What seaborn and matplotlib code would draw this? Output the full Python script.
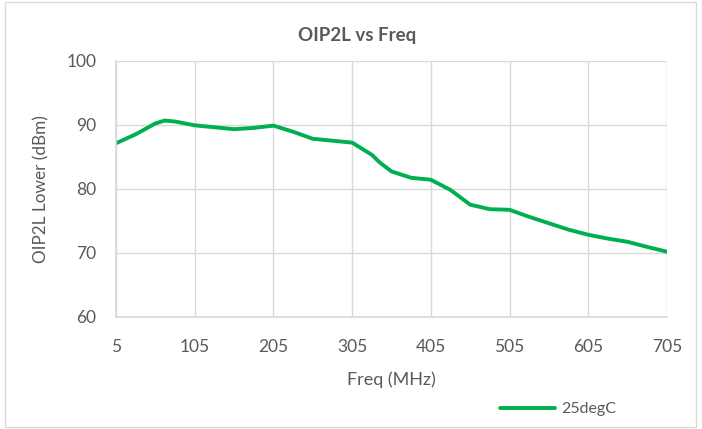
import pandas as pd
import matplotlib.pyplot as plt
import seaborn as sns
from matplotlib.patches import Rectangle

# valores (passo de ~25 MHz)
freq = [5, 30, 55, 67, 80, 105, 130, 155, 180, 205, 230, 255, 280, 305, 330, 340, 355,
        380, 405, 430, 455, 480, 505, 530, 555, 580, 605, 630, 655, 680, 705]
oip2l = [87.1, 88.5, 90.2, 90.65, 90.5, 89.9, 89.6, 89.3, 89.5, 89.85, 88.9, 87.8, 87.5, 87.2,
         85.3, 84.1, 82.7, 81.7, 81.4, 79.8, 77.5, 76.8, 76.7, 75.6, 74.6, 73.6, 72.8, 72.2,
         71.7, 70.9, 70.15]
xticks = [5, 105, 205, 305, 405, 505, 605, 705]
yticks = [60, 70, 80, 90, 100]
serie = '25degC'

df = pd.DataFrame({'Freq': freq, 'OIP2L': oip2l})

sns.set_theme(style='white')
plt.rcParams['font.family'] = ['Lato', 'DejaVu Sans']
cinza = '#595959'

fig = plt.figure(figsize=(7.02, 4.29), dpi=100)
ax = fig.add_axes([116 / 702, 1 - 316.7 / 429, (667 - 116) / 702, (316.7 - 60.7) / 429])

sns.lineplot(data=df, x='Freq', y='OIP2L', ax=ax, color='#00B050', linewidth=2.8,
             label=serie, solid_joinstyle='round', solid_capstyle='round')

ax.set_xlim(5, 705)
ax.set_ylim(60, 100)
ax.set_xticks(xticks)
ax.set_yticks(yticks)
ax.grid(True, color='#d9d9d9', linewidth=1)
for s in ax.spines.values():
    s.set_visible(False)
ax.spines['left'].set_visible(True)
ax.spines['left'].set_color('#d9d9d9')
ax.spines['bottom'].set_visible(True)
ax.spines['bottom'].set_color('#d9d9d9')
ax.tick_params(axis='both', length=0, labelsize=12.5, labelcolor=cinza)
ax.tick_params(axis='x', pad=16)
ax.tick_params(axis='y', pad=14)

ax.set_xlabel('Freq (MHz)', fontsize=13, color=cinza, labelpad=12)
ax.set_ylabel('OIP2L Lower (dBm)', fontsize=12.3, color=cinza, labelpad=12)
fig.text(357 / 702, 1 - 35 / 429, 'OIP2L vs Freq', ha='center', va='center',
         fontsize=13.5, fontweight='bold', color=cinza)

ax.legend(loc='center left', bbox_to_anchor=(486 / 702, 1 - 409 / 429),
          bbox_transform=fig.transFigure, frameon=False, fontsize=11.5,
          handlelength=3.4, handletextpad=0.4, labelcolor=cinza)

fig.patches.append(Rectangle((5 / 702, 2 / 429), 691 / 702, 425 / 429,
                             transform=fig.transFigure, fill=False,
                             edgecolor='#d9d9d9', linewidth=1))

plt.savefig('out.png', dpi=100)
